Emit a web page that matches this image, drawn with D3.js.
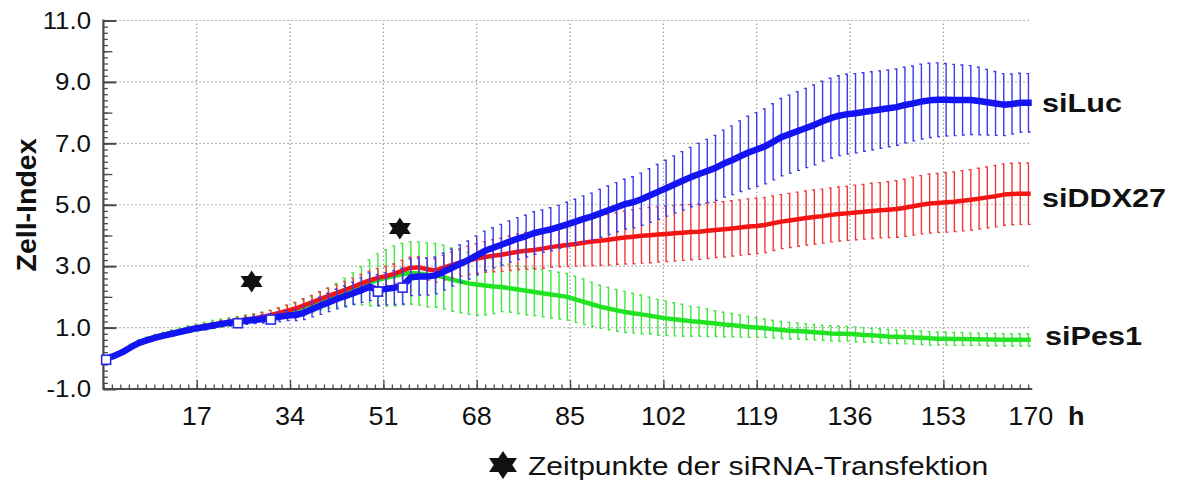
<!DOCTYPE html>
<html>
<head>
<meta charset="utf-8">
<script src="https://cdnjs.cloudflare.com/ajax/libs/d3/7.8.5/d3.min.js"></script>
<style>
  body { margin: 0; background: #fff; }
  svg { display: block; }
  text { font-family: "Liberation Sans", Arial, sans-serif; fill: #111; }
</style>
</head>
<body>
<div id="chart"></div>
<script>
// sampling hours of the impedance readings
const hours = [
  0.5,2,3.5,5,6.5,8,9.5,11,12.5,14,
  15.5,17,18.5,20,21.5,23,24.5,26,27.5,29,
  30.5,32,33.5,35,36.5,38,39.5,41,42.5,44,
  45.5,47,48.5,50,51.5,53,54.5,56,57.5,59,
  60.5,62,63.5,65,66.5,68,69.5,71,72.5,74,
  75.5,77,78.5,80,81.5,83,84.5,86,87.5,89,
  90.5,92,93.5,95,96.5,98,99.5,101,102.5,104,
  105.5,107,108.5,110,111.5,113,114.5,116,117.5,119,
  120.5,122,123.5,125,126.5,128,129.5,131,132.5,134,
  135.5,137,138.5,140,141.5,143,144.5,146,147.5,149,
  150.5,152,153.5,155,156.5,158,159.5,161,162.5,164,
  165.5,167,168.5
];

const siLucMean = [
  0.00,0.08,0.20,0.36,0.50,0.59,0.67,0.74,0.80,0.86,
  0.92,0.98,1.02,1.07,1.12,1.16,1.19,1.22,1.25,1.28,
  1.31,1.35,1.39,1.41,1.48,1.60,1.71,1.82,1.93,2.02,
  2.12,2.22,2.33,2.22,2.26,2.30,2.35,2.64,2.66,2.66,
  2.70,2.82,2.95,3.08,3.20,3.35,3.50,3.60,3.70,3.80,
  3.90,3.98,4.08,4.14,4.20,4.28,4.36,4.45,4.54,4.62,
  4.72,4.82,4.92,5.02,5.08,5.18,5.30,5.42,5.54,5.66,
  5.78,5.90,6.00,6.10,6.20,6.34,6.45,6.58,6.70,6.80,
  6.90,7.05,7.20,7.30,7.40,7.50,7.60,7.72,7.82,7.90,
  7.95,7.98,8.02,8.06,8.10,8.14,8.18,8.25,8.30,8.36,
  8.40,8.42,8.42,8.41,8.41,8.41,8.38,8.34,8.30,8.26,
  8.28,8.32,8.32
];
const siLucErr = [
  0.04,0.04,0.05,0.05,0.05,0.05,0.06,0.06,0.06,0.06,
  0.07,0.07,0.08,0.08,0.08,0.09,0.10,0.11,0.12,0.13,
  0.14,0.15,0.16,0.18,0.22,0.25,0.28,0.30,0.32,0.34,
  0.36,0.40,0.45,0.50,0.52,0.55,0.58,0.60,0.60,0.60,
  0.60,0.60,0.60,0.61,0.62,0.63,0.64,0.65,0.66,0.67,
  0.68,0.68,0.69,0.69,0.70,0.70,0.72,0.73,0.75,0.76,
  0.78,0.79,0.80,0.81,0.83,0.85,0.87,0.89,0.91,0.93,
  0.95,0.97,1.00,1.03,1.06,1.09,1.12,1.15,1.18,1.20,
  1.22,1.24,1.26,1.27,1.28,1.29,1.30,1.30,1.30,1.30,
  1.30,1.29,1.28,1.27,1.26,1.25,1.24,1.23,1.22,1.22,
  1.21,1.20,1.18,1.16,1.14,1.12,1.10,1.07,1.04,1.01,
  0.98,0.96,0.95
];

const siDDX27Mean = [
  0.00,0.08,0.21,0.37,0.51,0.60,0.68,0.75,0.81,0.87,
  0.93,0.99,1.03,1.08,1.13,1.17,1.22,1.26,1.30,1.35,
  1.41,1.48,1.55,1.62,1.72,1.82,1.93,2.03,2.13,2.23,
  2.33,2.44,2.54,2.62,2.68,2.75,2.86,2.95,2.96,2.90,
  2.86,2.95,3.04,3.12,3.19,3.25,3.30,3.34,3.37,3.42,
  3.47,3.50,3.53,3.57,3.62,3.66,3.69,3.72,3.76,3.80,
  3.83,3.86,3.90,3.93,3.96,3.99,4.01,4.03,4.05,4.07,
  4.09,4.11,4.12,4.15,4.18,4.20,4.23,4.26,4.29,4.31,
  4.34,4.40,4.45,4.49,4.53,4.57,4.60,4.63,4.67,4.70,
  4.72,4.75,4.77,4.80,4.82,4.84,4.86,4.90,4.95,5.00,
  5.04,5.06,5.08,5.10,5.13,5.16,5.20,5.24,5.28,5.33,
  5.35,5.36,5.36
];
const siDDX27Err = [
  0.04,0.04,0.05,0.05,0.05,0.06,0.06,0.06,0.07,0.07,
  0.08,0.08,0.09,0.09,0.10,0.10,0.11,0.12,0.13,0.14,
  0.15,0.16,0.18,0.20,0.22,0.23,0.24,0.25,0.26,0.27,
  0.28,0.29,0.30,0.30,0.31,0.32,0.33,0.34,0.35,0.36,
  0.38,0.40,0.42,0.44,0.46,0.48,0.50,0.52,0.54,0.56,
  0.58,0.60,0.62,0.64,0.66,0.68,0.70,0.72,0.75,0.78,
  0.80,0.82,0.84,0.86,0.88,0.89,0.90,0.90,0.90,0.90,
  0.90,0.90,0.90,0.90,0.90,0.90,0.90,0.90,0.90,0.90,
  0.90,0.89,0.88,0.88,0.88,0.88,0.88,0.88,0.88,0.88,
  0.88,0.89,0.89,0.90,0.90,0.91,0.92,0.93,0.94,0.95,
  0.96,0.96,0.97,0.97,0.98,0.98,0.99,0.99,1.00,1.00,
  1.00,1.00,1.00
];

const siPes1Mean = [
  0.00,0.09,0.22,0.39,0.53,0.62,0.70,0.77,0.83,0.89,
  0.95,1.00,1.05,1.10,1.14,1.18,1.22,1.26,1.30,1.34,
  1.39,1.45,1.52,1.58,1.66,1.76,1.86,1.96,2.06,2.16,
  2.26,2.36,2.46,2.55,2.62,2.68,2.74,2.78,2.76,2.72,
  2.70,2.64,2.56,2.50,2.44,2.40,2.37,2.34,2.32,2.28,
  2.24,2.20,2.16,2.12,2.08,2.04,2.00,1.92,1.84,1.76,
  1.68,1.62,1.56,1.51,1.47,1.43,1.39,1.34,1.30,1.27,
  1.24,1.21,1.19,1.16,1.13,1.10,1.08,1.05,1.02,1.00,
  0.98,0.95,0.92,0.90,0.89,0.87,0.85,0.83,0.81,0.80,
  0.80,0.78,0.76,0.75,0.73,0.71,0.70,0.69,0.68,0.67,
  0.65,0.64,0.64,0.63,0.63,0.62,0.62,0.61,0.61,0.60,
  0.60,0.60,0.60
];
const siPes1Err = [
  0.05,0.05,0.06,0.06,0.07,0.07,0.08,0.08,0.09,0.10,
  0.11,0.12,0.12,0.13,0.13,0.14,0.14,0.15,0.15,0.16,
  0.17,0.18,0.20,0.22,0.24,0.26,0.28,0.32,0.38,0.45,
  0.52,0.62,0.75,0.85,0.92,0.98,1.00,1.02,1.03,1.04,
  1.04,1.04,1.03,1.02,1.01,1.00,0.95,0.88,0.80,0.78,
  0.78,0.78,0.77,0.77,0.77,0.76,0.76,0.75,0.74,0.72,
  0.70,0.69,0.68,0.67,0.65,0.63,0.60,0.58,0.56,0.54,
  0.52,0.49,0.47,0.45,0.42,0.40,0.38,0.36,0.34,0.32,
  0.30,0.29,0.28,0.27,0.26,0.26,0.25,0.25,0.25,0.25,
  0.24,0.24,0.24,0.23,0.23,0.23,0.22,0.22,0.22,0.22,
  0.22,0.21,0.21,0.21,0.21,0.20,0.20,0.20,0.20,0.20,
  0.20,0.20,0.20
];

// medium-change marks on the siLuc trace, transfection time points
const markerHours = [0.5, 24.5, 30.5, 50, 54.5];
const transfectionHours = [27, 54];
const transfectionLevel = [2.5, 4.23];

const xTickLabels = ["17","34","51","68","85","102","119","136","153","170"];
const yTickLabels = ["-1.0","1.0","3.0","5.0","7.0","9.0","11.0"];

const W = 1181, H = 481;
const svg = d3.select("#chart").append("svg").attr("width", W).attr("height", H);

const x = d3.scaleLinear().domain([0, 170]).range([103.4, 1036.7]);
const y = d3.scaleLinear().domain([-1, 11]).range([389, 20.5]);
const xEnd = 169.2;

const series = [
  {name: "siPes1", mean: siPes1Mean, err: siPes1Err, line: "#22e322", bar: "#3ee63e", lw: 4.5},
  {name: "siDDX27", mean: siDDX27Mean, err: siDDX27Err, line: "#f51414", bar: "#f03a3a", lw: 4.5},
  {name: "siLuc", mean: siLucMean, err: siLucErr, line: "#1414f2", bar: "#3c3cee", lw: 6.5}
];

// dotted grid
const grid = svg.append("g").attr("stroke", "#9a9a9a").attr("stroke-width", 1.2)
  .attr("stroke-dasharray", "1.4,2.6");
grid.selectAll(".gy").data(yTickLabels.map(Number).filter(v => v > -1)).enter().append("line")
  .attr("x1", x(0)).attr("x2", x(xEnd) - 2)
  .attr("y1", d => y(d)).attr("y2", d => y(d));
grid.selectAll(".gx").data(xTickLabels.map(Number).filter(v => v < 170)).enter().append("line")
  .attr("x1", d => x(d)).attr("x2", d => x(d))
  .attr("y1", y(-1)).attr("y2", y(11));

// axes: ticks point inward
const axisCol = "#4a4a4a";
function styleAxis(g) {
  g.select(".domain").remove();
  g.selectAll(".tick line").attr("stroke", axisCol).attr("stroke-width", 1.3);
  g.selectAll(".tick text").remove();
}
const yMinor = d3.range(-1, 11.01, 0.2).map(v => +v.toFixed(1));
svg.append("g").attr("transform", `translate(${x(0)},0)`)
  .call(d3.axisLeft(y).tickValues(yMinor).tickSize(-4.5)).call(styleAxis);
svg.append("g").attr("transform", `translate(${x(0)},0)`)
  .call(d3.axisLeft(y).tickValues(d3.range(0, 11, 2)).tickSize(-9)).call(styleAxis);
svg.append("g").attr("transform", `translate(${x(0)},0)`)
  .call(d3.axisLeft(y).tickValues(yTickLabels.map(Number)).tickSize(-13)).call(styleAxis)
  .selectAll(".tick line").attr("stroke-width", 2);

const xMinor = d3.range(0, xEnd, 17 / 11);
svg.append("g").attr("transform", `translate(0,${y(-1)})`)
  .call(d3.axisBottom(x).tickValues(xMinor).tickSize(-4.5)).call(styleAxis);
svg.append("g").attr("transform", `translate(0,${y(-1)})`)
  .call(d3.axisBottom(x).tickValues(xTickLabels.map(Number).filter(v => v < 170)).tickSize(-9)).call(styleAxis);

svg.append("line").attr("x1", x(0)).attr("x2", x(0)).attr("y1", y(11) - 1).attr("y2", y(-1) + 1)
  .attr("stroke", axisCol).attr("stroke-width", 2.2);
svg.append("line").attr("x1", x(0)).attr("x2", x(xEnd)).attr("y1", y(-1)).attr("y2", y(-1))
  .attr("stroke", axisCol).attr("stroke-width", 2.2);

// text helper (source picture is stretched a little horizontally)
function label(txt, x0, y0, size, anchor, weight, sx) {
  return svg.append("text")
    .attr("transform", `translate(${x0},${y0}) scale(${sx},1)`)
    .attr("text-anchor", anchor).attr("font-size", size)
    .attr("font-weight", weight).text(txt);
}

yTickLabels.forEach(t => label(t, 91, y(+t) + 8.3, 23.5, "end", "normal", 1.1));
xTickLabels.forEach(t => label(t, x(+t) - (t === "170" ? 6 : 0), 425, 25, "middle", "normal", 1.08));
label("h", 1068, 425, 25, "start", "bold", 1.08);

svg.append("text")
  .attr("transform", "translate(36,205) rotate(-90)")
  .attr("text-anchor", "middle").attr("font-size", 28.5).attr("font-weight", "bold")
  .text("Zell-Index");

// series: error bars then mean trace
const line = d3.line().x((d, i) => x(hours[i])).y(d => y(d)).curve(d3.curveLinear);
series.forEach(s => {
  const g = svg.append("g").attr("class", s.name);
  g.selectAll("path.err").data(s.mean).enter().append("path")
    .attr("class", "err")
    .attr("d", (d, i) => {
      const px = x(hours[i]), yt = y(d + s.err[i]), yb = y(d - s.err[i]);
      return `M${px - 2.2},${yt}H${px}V${yb}H${px + 2.2}`;
    })
    .attr("fill", "none").attr("stroke", s.bar).attr("stroke-width", 1.4);
  g.append("path").datum(s.mean).attr("d", line)
    .attr("fill", "none").attr("stroke", s.line).attr("stroke-width", s.lw)
    .attr("stroke-linejoin", "round").attr("stroke-linecap", "square");
});

// hollow square marks on siLuc
svg.selectAll("rect.mark").data(markerHours).enter().append("rect")
  .attr("class", "mark")
  .attr("x", d => x(d) - 4.5)
  .attr("y", d => y(siLucMean[hours.indexOf(d)]) - 3)
  .attr("width", 9).attr("height", 9)
  .attr("fill", "#fff").attr("stroke", "#2a2af0").attr("stroke-width", 1.6);

// six-pointed stars
function hexagram(r) {
  const tri = a0 => d3.range(3).map(k => {
    const a = (a0 + k * 120) * Math.PI / 180;
    return [r * Math.cos(a), r * Math.sin(a)];
  });
  return [tri(-90), tri(90)].map(p => "M" + p.join("L") + "Z").join("");
}
svg.selectAll("path.star").data(transfectionHours).enter().append("path")
  .attr("class", "star")
  .attr("transform", (d, i) => `translate(${x(d)},${y(transfectionLevel[i])}) scale(1.15,1)`)
  .attr("d", hexagram(11)).attr("fill", "#111");

// series names
label("siLuc", 1042, 112, 25.5, "start", "bold", 1.2);
label("siDDX27", 1042, 207, 25.5, "start", "bold", 1.2);
label("siPes1", 1045, 345, 25.5, "start", "bold", 1.2);

// legend
svg.append("path").attr("transform", "translate(503,465) scale(1.15,1)")
  .attr("d", hexagram(14)).attr("fill", "#111");
label("Zeitpunkte der siRNA-Transfektion", 528, 475, 25.5, "start", "normal", 1.18);
</script>
</body>
</html>
